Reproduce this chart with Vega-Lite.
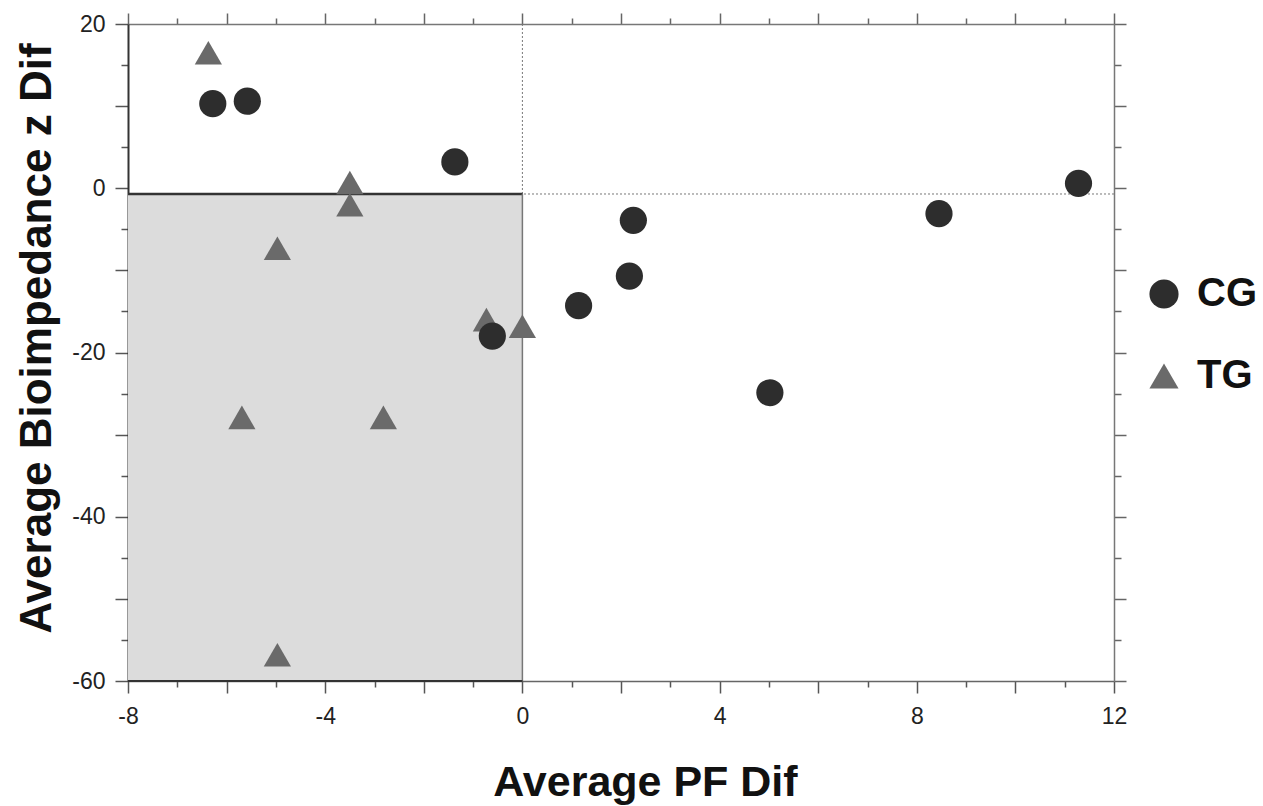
{
  "$schema": "https://vega.github.io/schema/vega-lite/v6.json",
  "width": 986,
  "height": 657,
  "autosize": "none",
  "padding": {"left": 128, "top": 24, "right": 149, "bottom": 125},
  "background": "white",
  "config": {"view": {"stroke": null}, "font": "Liberation Sans"},
  "datasets": {
    "points": [
      {"group": "TG", "pf": -6.37, "z": 16.5},
      {"group": "TG", "pf": -3.5, "z": 0.7},
      {"group": "TG", "pf": -3.5, "z": -2.0},
      {"group": "TG", "pf": -4.97, "z": -7.3},
      {"group": "TG", "pf": -0.73, "z": -16.0},
      {"group": "TG", "pf": 0.0, "z": -16.8},
      {"group": "TG", "pf": -5.69, "z": -27.9},
      {"group": "TG", "pf": -2.82, "z": -27.9},
      {"group": "TG", "pf": -4.97, "z": -56.8},
      {"group": "CG", "pf": -6.28, "z": 10.3},
      {"group": "CG", "pf": -5.58, "z": 10.6},
      {"group": "CG", "pf": -1.37, "z": 3.2},
      {"group": "CG", "pf": -0.61, "z": -18.0},
      {"group": "CG", "pf": 1.14, "z": -14.3},
      {"group": "CG", "pf": 2.17, "z": -10.7},
      {"group": "CG", "pf": 2.25, "z": -3.9},
      {"group": "CG", "pf": 5.02, "z": -24.9},
      {"group": "CG", "pf": 8.45, "z": -3.1},
      {"group": "CG", "pf": 11.28, "z": 0.6}
    ],
    "region": [{"x1": -8, "x2": 0, "y1": -60, "y2": -0.7}],
    "guides": [{"x0": 0, "y0": -0.7, "ytop": 20}]
  },
  "layer": [
    {
      "data": {"name": "region"},
      "mark": {"type": "rect", "fill": "#dcdcdc"},
      "encoding": {
        "x": {
          "field": "x1", "type": "quantitative",
          "scale": {"domain": [-8, 12], "nice": false, "zero": false},
          "axis": {
            "orient": "bottom",
            "values": [-8, -7, -6, -5, -4, -3, -2, -1, 0, 1, 2, 3, 4, 5, 6, 7, 8, 9, 10, 11, 12],
            "labelExpr": "datum.value % 4 === 0 ? '' + datum.value : ''",
            "tickSize": {"condition": {"test": "datum.value % 2 === 0", "value": 12}, "value": 6},
            "labelPadding": 12,
            "labelFontSize": 23,
            "labelColor": "#222",
            "labelOverlap": false,
            "labelFlush": false,
            "domainColor": "#666",
            "domainWidth": 1.5,
            "tickColor": "#555",
            "tickWidth": 1.5,
            "grid": false,
            "title": "Average PF Dif",
            "titleFontSize": 43,
            "titleFontWeight": "bold",
            "titleColor": "#111",
            "titleAlign": "center",
            "titleBaseline": "alphabetic",
            "titleX": 517,
            "titleY": 114
          }
        },
        "x2": {"field": "x2"},
        "y": {
          "field": "y1", "type": "quantitative",
          "scale": {"domain": [-60, 20], "nice": false, "zero": false},
          "axis": {
            "orient": "left",
            "values": [-60, -55, -50, -45, -40, -35, -30, -25, -20, -15, -10, -5, 0, 5, 10, 15, 20],
            "labelExpr": "datum.value % 20 === 0 ? '' + datum.value : ''",
            "tickSize": {"condition": {"test": "datum.value % 10 === 0", "value": 13}, "value": 7},
            "labelPadding": 10,
            "labelFontSize": 23,
            "labelColor": "#222",
            "labelOverlap": false,
            "labelFlush": false,
            "domainColor": "#333",
            "domainWidth": 2,
            "tickColor": "#555",
            "tickWidth": 1.5,
            "grid": false,
            "title": "Average Bioimpedance z Dif",
            "titleFontSize": 44,
            "titleFontWeight": "bold",
            "titleColor": "#111",
            "titleAngle": -90,
            "titleAlign": "center",
            "titleBaseline": "alphabetic",
            "titleX": -78,
            "titleY": 314
          }
        },
        "y2": {"field": "y2"}
      }
    },
    {
      "data": {"name": "guides"},
      "mark": {"type": "rule", "color": "#777", "strokeDash": [2, 2], "strokeWidth": 1},
      "encoding": {
        "y": {
          "field": "y0", "type": "quantitative",
          "axis": {
            "orient": "right",
            "values": [-60, -55, -50, -45, -40, -35, -30, -25, -20, -15, -10, -5, 0, 5, 10, 15, 20],
            "labels": false,
            "tickSize": {"condition": {"test": "datum.value % 10 === 0", "value": 12}, "value": 7},
            "domainColor": "#777",
            "domainWidth": 1.5,
            "tickColor": "#666",
            "tickWidth": 1.5,
            "grid": false,
            "title": null
          }
        }
      }
    },
    {
      "data": {"name": "guides"},
      "mark": {"type": "rule", "color": "#777", "strokeDash": [2, 2], "strokeWidth": 1},
      "encoding": {
        "x": {
          "field": "x0", "type": "quantitative",
          "axis": {
            "orient": "top",
            "values": [-8, -7, -6, -5, -4, -3, -2, -1, 0, 1, 2, 3, 4, 5, 6, 7, 8, 9, 10, 11, 12],
            "labels": false,
            "tickSize": {"condition": {"test": "datum.value % 2 === 0", "value": 11}, "value": 6},
            "domainColor": "#777",
            "domainWidth": 1.5,
            "tickColor": "#666",
            "tickWidth": 1.5,
            "grid": false,
            "title": null
          }
        },
        "y": {"field": "y0", "type": "quantitative", "axis": null},
        "y2": {"field": "ytop"}
      }
    },
    {
      "data": {"name": "region"},
      "mark": {"type": "rule", "color": "#333", "strokeWidth": 2.5},
      "encoding": {
        "x": {"field": "x1", "type": "quantitative", "axis": null},
        "x2": {"field": "x2"},
        "y": {"field": "y2", "type": "quantitative", "axis": null}
      }
    },
    {
      "data": {"name": "region"},
      "mark": {"type": "rule", "color": "#777", "strokeWidth": 1.5},
      "encoding": {
        "x": {"field": "x2", "type": "quantitative", "axis": null},
        "y": {"field": "y1", "type": "quantitative", "axis": null},
        "y2": {"field": "y2"}
      }
    },
    {
      "data": {"name": "region"},
      "mark": {"type": "rule", "color": "#333", "strokeWidth": 2},
      "encoding": {
        "x": {"field": "x1", "type": "quantitative", "axis": null},
        "x2": {"field": "x2"},
        "y": {"field": "y1", "type": "quantitative", "axis": null}
      }
    },
    {
      "data": {"name": "points"},
      "mark": {"type": "point", "filled": true, "opacity": 1, "size": 740, "strokeWidth": 0},
      "encoding": {
        "x": {"field": "pf", "type": "quantitative", "axis": null},
        "y": {"field": "z", "type": "quantitative", "axis": null},
        "shape": {
          "field": "group", "type": "nominal",
          "scale": {"domain": ["CG", "TG"], "range": ["circle", "triangle-up"]},
          "legend": {
            "title": null, "orient": "none", "legendX": 1016, "legendY": 250,
            "labelFontSize": 40, "labelFontWeight": "bold", "labelColor": "#111",
            "symbolSize": 850, "rowPadding": 42, "labelOffset": 13, "symbolStrokeWidth": 0
          }
        },
        "color": {
          "field": "group", "type": "nominal",
          "scale": {"domain": ["CG", "TG"], "range": ["#2d2d2d", "#6a6a6a"]},
          "legend": {
            "title": null, "orient": "none", "legendX": 1016, "legendY": 250,
            "labelFontSize": 40, "labelFontWeight": "bold", "labelColor": "#111",
            "symbolSize": 850, "rowPadding": 42, "labelOffset": 13, "symbolStrokeWidth": 0
          }
        }
      }
    }
  ],
  "resolve": {"axis": {"x": "independent", "y": "independent"}}
}
